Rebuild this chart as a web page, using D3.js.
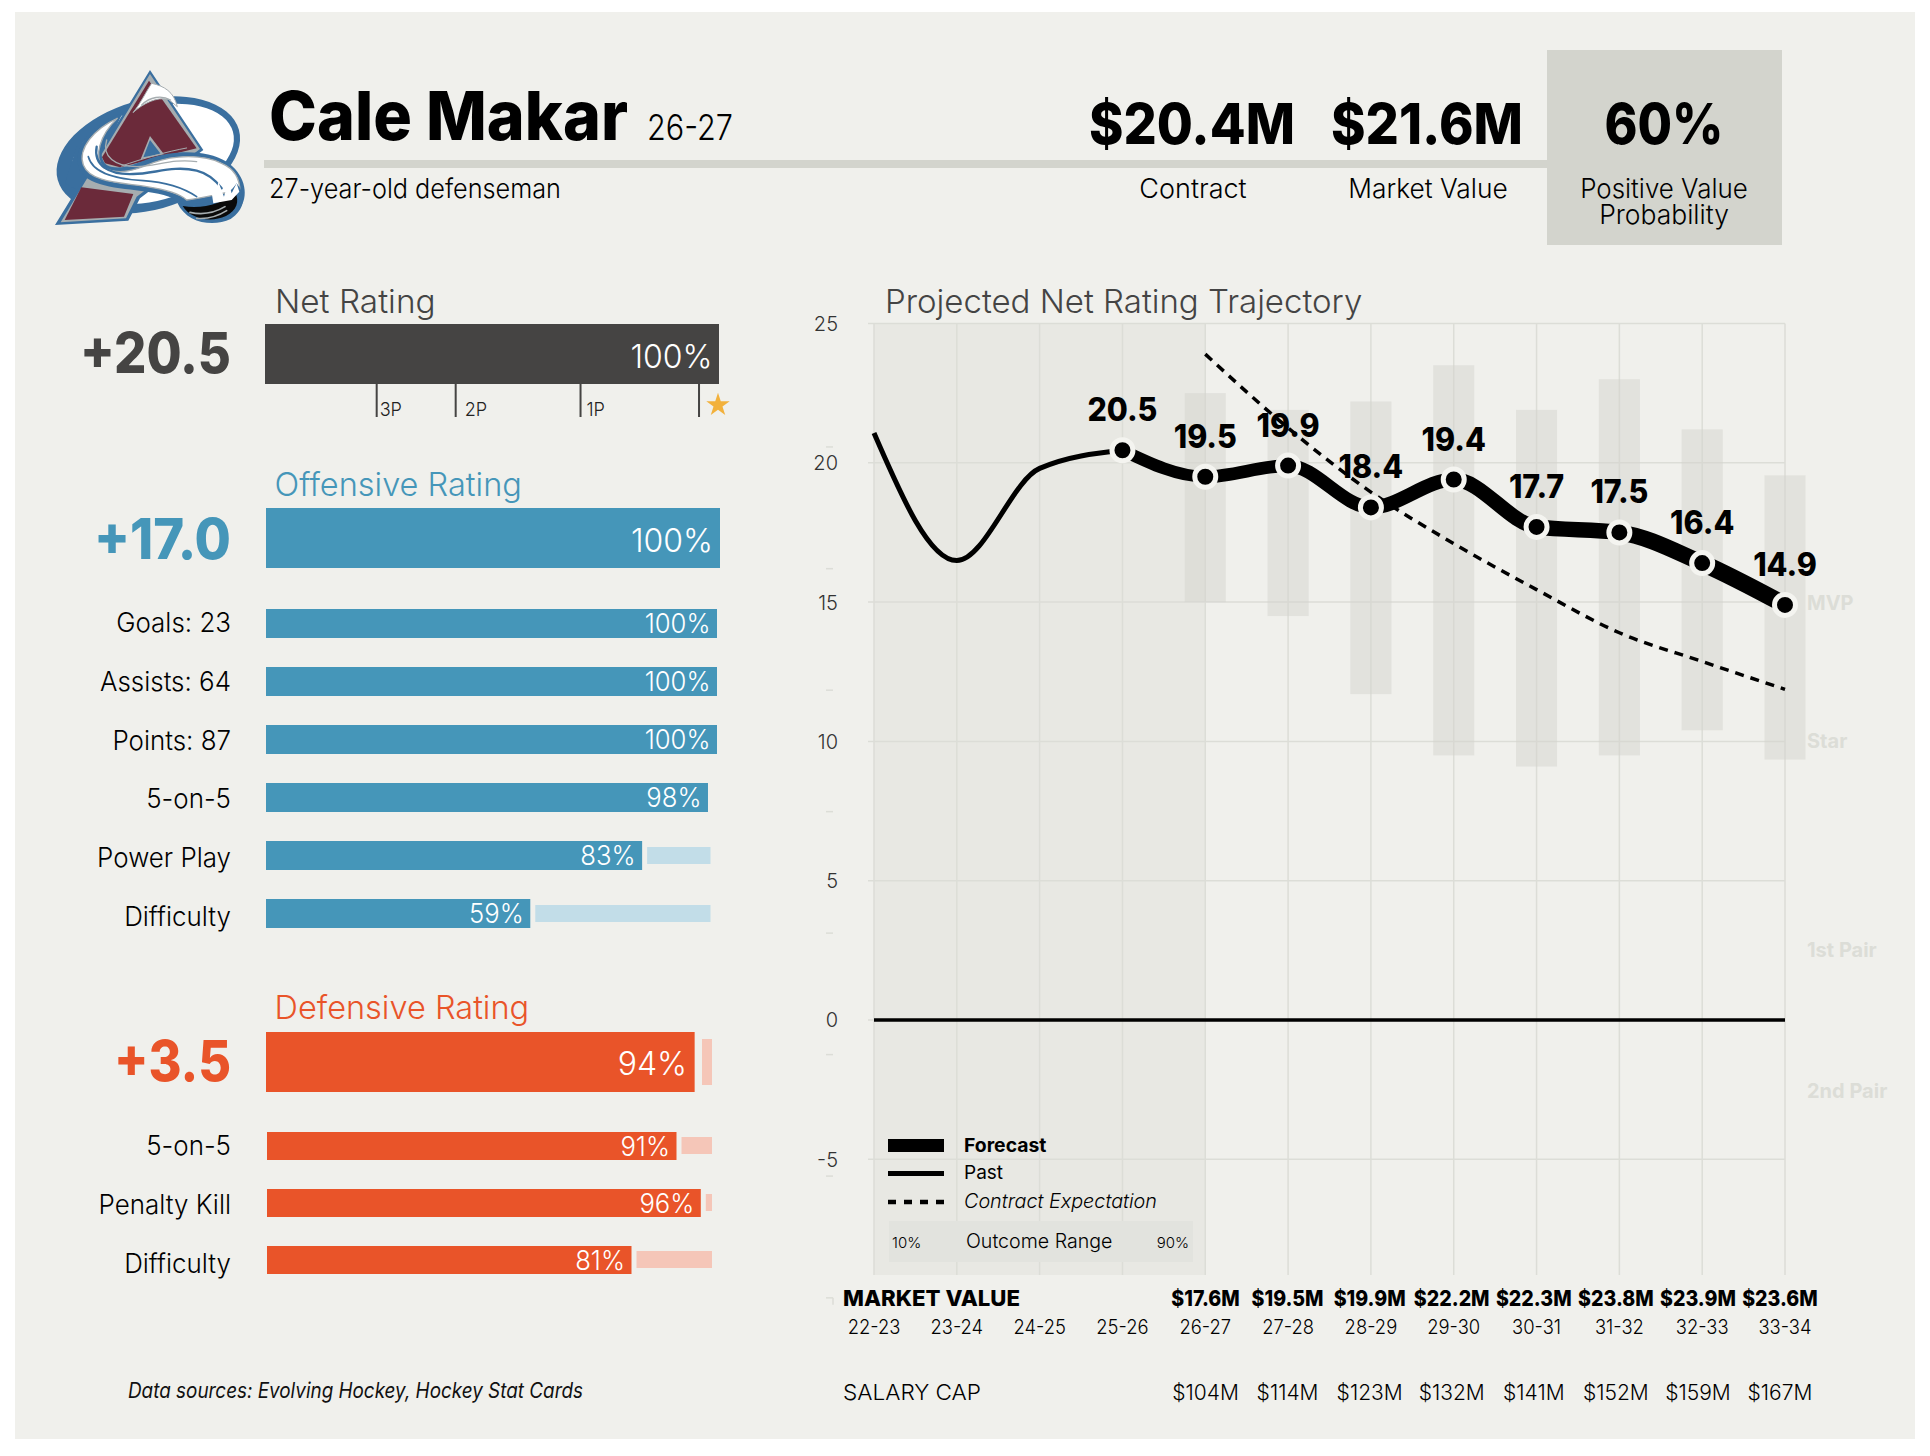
<!DOCTYPE html>
<html><head><meta charset="utf-8">
<script src="https://cdn.jsdelivr.net/npm/d3@7"></script>
<style>
html,body{margin:0;padding:0;background:#fff}
svg{display:block}
text{font-family:Inter,"Noto Sans",sans-serif;font-kerning:normal}
</style></head><body><svg id="c" width="1930" height="1456"></svg>
<script>
const seasons=["22-23","23-24","24-25","25-26","26-27","27-28","28-29","29-30","30-31","31-32","32-33","33-34"];
const pastValues=[21.07,16.49,19.8,20.45];
const forecastValues=[20.45,19.5,19.9,18.4,19.4,17.7,17.5,16.4,14.9];
const forecastLabels=["20.5","19.5","19.9","18.4","19.4","17.7","17.5","16.4","14.9"];
const contractValues=[23.9,21.25,18.95,17.1,15.45,13.9,12.87,11.87];
const rangeHigh=[22.5,21.9,22.2,23.5,21.9,23.0,21.2,19.55];
const rangeLow=[15.0,14.5,11.7,9.5,9.1,9.5,10.4,9.35];
const marketValues=["$17.6M","$19.5M","$19.9M","$22.2M","$22.3M","$23.8M","$23.9M","$23.6M"];
const salaryCaps=["$104M","$114M","$123M","$132M","$141M","$152M","$159M","$167M"];
const yTicks=[25,20,15,10,5,0,-5];
const minorTicks=[20.57,16.2,11.84,7.48,3.12,-1.24,-5.6,-9.97];
const tierLabels=["MVP","Star","1st Pair","2nd Pair"];
const tierValues=[14.7,9.75,2.25,-2.8];
const offenseLabels=["Goals: 23","Assists: 64","Points: 87","5-on-5","Power Play","Difficulty"];
const offenseValues=[100,100,100,98,83,59];
const offenseBars=[100,100,100,98,83.4,58.6];
const defenseLabels=["5-on-5","Penalty Kill","Difficulty"];
const defenseValues=[91,96,81];
const defenseBars=[91,96.4,81];
const netTickLabels=["3P","2P","1P"];
const netTickValues=[24.6,42,69.5,95.6];

const svg=d3.select("#c");
const T=(x,y,s,size,o={})=>{const t=svg.append("text").attr("x",x).attr("y",y).text(s)
  .attr("font-size",size).attr("fill",o.fill||"#000").attr("text-anchor",o.a||"start")
  .attr("font-weight",o.w||300);
  if(o.i)t.attr("font-style","italic");
  const len=o.len||(o.k?t.node().getComputedTextLength()*o.k:0);
  if(len)t.attr("textLength",len).attr("lengthAdjust","spacingAndGlyphs");
  return t;};
const R=(x0,y0,x1,y1,f,op)=>svg.append("rect").attr("x",x0).attr("y",y0).attr("width",x1-x0).attr("height",y1-y0).attr("fill",f).attr("opacity",op==null?1:op);

const BG="#f0f0ec",TILE="#d3d4cd";
R(15,12,1915,1439,BG);

// header
R(264,160,1547,168,TILE);
R(1547,50,1782,245,TILE);
T(269,140,"Cale Makar",68,{w:800,len:359});
T(647,140,"26-27",35,{len:86});
T(269,198,"27-year-old defenseman",27,{len:292});
T(1192,144,"$20.4M",57,{w:800,a:"middle",len:206});
T(1427,144,"$21.6M",57,{w:800,a:"middle",len:192});
T(1664,144,"60%",57,{w:800,a:"middle",len:119});
T(1193,198,"Contract",27,{a:"middle"});
T(1428,198,"Market Value",27,{a:"middle",k:.975});
T(1664,198,"Positive Value",27,{a:"middle",k:.96});
T(1664,224,"Probability",27,{a:"middle",k:.98});

// logo
const L=svg.append("g").attr("transform","translate(40,50) scale(0.3333)");
const BL="#3a6f9f",MA="#6b2a3a",GR="#a6adb0",WH="#ffffff";
const P=(d,f,s,w)=>L.append("path").attr("d",d).attr("fill",f||"none").attr("stroke",s||"none").attr("stroke-width",w||0).attr("stroke-linejoin","round").attr("stroke-linecap","round");
L.append("ellipse").attr("cx",325).attr("cy",315).attr("rx",282).attr("ry",165).attr("transform","rotate(-15.5 325 315)").attr("fill",BL);
L.append("ellipse").attr("cx",338).attr("cy",312).attr("rx",250).attr("ry",140).attr("transform","rotate(-15.5 338 312)").attr("fill",WH);
P("M75,400 L110,290 L250,185 L130,430 Z",BL);
P("M330,60 L490,300 L300,445 L265,512 L45,525 Z",BL);
P("M330,72 L480,297 L290,440 L258,505 L62,517 Z",GR);
P("M327,92 L470,295 L240,352 L195,340 L186,322 Z",MA);
P("M74,510 L124,412 L280,432 L252,500 Z",MA);
P("M330,258 L372,313 L302,328 Z",GR);
P("M330,270 L362,311 L310,322 Z",BL);
P("M245,348 C310,325 380,305 440,294",null,GR,3);
P("M280,187 C305,155 318,125 335,100 C372,108 402,125 412,170 L385,148 C350,140 310,160 280,187 Z",WH,GR,3);
P("M305,165 C330,140 365,135 392,150",null,GR,4);
P("M245,190 C170,215 95,285 115,350 C135,412 235,412 320,425 C370,432 410,442 420,465 C460,525 565,525 603,470 C628,430 612,370 560,335 C500,298 400,300 330,325 C290,340 240,365 200,345 C168,320 190,250 245,190 Z",BL);
P("M232,205 C165,235 112,295 130,345 C150,398 245,398 320,410 C375,418 420,432 440,450 C520,440 570,420 600,425 C600,380 580,355 545,340 C490,312 400,315 340,338 C295,356 240,380 190,352 C160,320 180,255 232,205 Z",WH,GR,4);
P("M170,290 C160,345 205,375 280,372 C340,372 400,345 470,362 C510,372 530,395 545,415",null,BL,7);
P("M145,320 C160,375 240,388 310,392 C375,396 425,410 470,440",null,BL,5);
P("M200,270 C185,320 225,350 290,350 C350,348 400,325 470,335",null,GR,4);
P("M412,458 C470,470 555,455 590,400 C622,438 612,482 572,507 C520,532 440,520 412,458 Z",BL);
P("M428,468 C490,478 550,460 585,425 C600,455 590,480 558,498 C510,520 450,505 428,468 Z","#0a0a0a");
P("M450,487 C490,496 525,488 555,470 M470,505 C505,508 535,498 560,482",null,GR,5);
P("M510,395 L530,420 L535,395 L552,440 L565,395 L575,430 L590,400 L598,425 L575,450 L520,460 Z",WH);

// left bars
const bigScale=d3.scaleLinear().domain([0,100]).range([266,720]);
const defBig=d3.scaleLinear().domain([0,100]).range([266,722]);
const offScale=d3.scaleLinear().domain([0,100]).range([266,717]);
const defScale=d3.scaleLinear().domain([0,100]).range([267,717]);
const DK="#454443",OF="#4596b9",OFL="#c2dde8",DF="#e95429",DFL="#f5c6b8";
T(275,313,"Net Rating",33,{fill:"#444",k:1.01});
R(265,324,719,384,DK);
T(712.5,368,"100%",32,{fill:"#fff",a:"end"});
T(231,373,"+20.5",56,{fill:DK,w:800,a:"end",len:151});
const netX=d3.scaleLinear().domain([0,100]).range([265,719]);
const netOff=[3,9,6];
netTickValues.forEach((v,i)=>{
  R(netX(v)-1,384,netX(v)+1,417,DK);
  if(netTickLabels[i])T(netX(v)+netOff[i],416,netTickLabels[i],19,{fill:"#222",k:.95});
});
svg.append("path").attr("d",d3.symbol(d3.symbolStar,170)()).attr("transform","translate(718,405)").attr("fill","#f2b13c");

T(274.5,496,"Offensive Rating",33,{fill:OF,k:.985});
R(266,508,bigScale(100),568,OF);
T(713,552,"100%",32,{fill:"#fff",a:"end"});
T(231,559,"+17.0",56,{fill:OF,w:800,a:"end",len:137});
const offY=d3.scalePoint().domain(offenseLabels).range([609,899]);
const offLabelY=d3.scalePoint().domain(offenseLabels).range([632,926]);
offenseLabels.forEach((l,i)=>{
  const y=offY(l),v=offenseBars[i],x1=offScale(v);
  if(v<98) R(x1+5,y+6,710.5,y+23,OFL);
  R(266,y,x1,y+29,OF);
  T(x1-6.5,y+24,offenseValues[i]+"%",27,{fill:"#fff",a:"end",k:.95});
  T(231,offLabelY(l),l,27,{a:"end",k:.96});
});

T(274.5,1019,"Defensive Rating",33,{fill:DF,k:.985});
R(702,1039,712,1085,DFL);
R(266,1032,defBig(94),1092,DF);
T(687,1075,"94%",32,{fill:"#fff",a:"end"});
T(231,1081,"+3.5",56,{fill:DF,w:800,a:"end",len:117});
const defY=d3.scalePoint().domain(defenseLabels).range([1132,1246]);
const defLabelY=d3.scalePoint().domain(defenseLabels).range([1155,1272.5]);
defenseLabels.forEach((l,i)=>{
  const y=defY(l),v=defenseBars[i],x1=defScale(v);
  R(x1+5,y+5,712,y+22,DFL);
  R(267,y,x1,y+28,DF);
  T(x1-6.5,y+23.5,defenseValues[i]+"%",27,{fill:"#fff",a:"end",k:.95});
  T(231,defLabelY(l),l,27,{a:"end",k:.96});
});
T(128,1398,"Data sources: Evolving Hockey, Hockey Stat Cards",21,{i:true,w:400,fill:"#111",len:455});

// chart
const x=d3.scalePoint().domain(seasons).range([874,1785]);
const y=d3.scaleLinear().domain([25,-9.15]).range([323.5,1275]);
const GRID="#dcddd7";
T(885,313,"Projected Net Rating Trajectory",33,{fill:"#444"});
R(874,323.5,x("26-27"),1275,"#e8e8e3");
seasons.forEach(s=>svg.append("line").attr("x1",x(s)).attr("x2",x(s)).attr("y1",323.5).attr("y2",1275).attr("stroke",GRID).attr("stroke-width",1.5));
const yAxis=d3.axisLeft(y).tickValues(yTicks).tickSize(0).tickPadding(0).tickFormat(d=>String(d));
const yg=svg.append("g").attr("transform","translate(838,0.5)").call(yAxis);
yg.select(".domain").remove();
yg.selectAll("text").attr("font-size",20).attr("fill","#333").attr("font-weight",300).attr("font-family","Inter");
yTicks.forEach(v=>svg.append("line").attr("x1",868).attr("x2",1785).attr("y1",y(v)).attr("y2",y(v)).attr("stroke",GRID).attr("stroke-width",1.5));
minorTicks.forEach(v=>svg.append("line").attr("x1",826).attr("x2",833).attr("y1",y(v)).attr("y2",y(v)).attr("stroke","#dcddd7").attr("stroke-width",1.5));
svg.append("line").attr("x1",833).attr("x2",833).attr("y1",y(-9.97)).attr("y2",y(-9.97)+7).attr("stroke","#dcddd7").attr("stroke-width",1.5);

const fut=seasons.slice(4);
fut.forEach((s,i)=>{
  svg.append("rect").attr("x",x(s)-20.5).attr("width",41).attr("y",y(rangeHigh[i])).attr("height",y(rangeLow[i])-y(rangeHigh[i])).attr("fill","#d3d4cd").attr("opacity",.5);
});
svg.append("line").attr("x1",874).attr("x2",1785).attr("y1",y(0)).attr("y2",y(0)).attr("stroke","#000").attr("stroke-width",3.5);

const line=d3.line().x(d=>x(d[0])).y(d=>y(d[1])).curve(d3.curveMonotoneX);
svg.append("path").attr("d",line(contractValues.map((v,i)=>[fut[i],v]))).attr("fill","none").attr("stroke","#000").attr("stroke-width",3.5).attr("stroke-dasharray","9 7");
svg.append("path").attr("d",line(pastValues.map((v,i)=>[seasons[i],v]))).attr("fill","none").attr("stroke","#000").attr("stroke-width",5);
const fs=seasons.slice(3);
const fd=forecastValues.map((v,i)=>[fs[i],v]);
const parts=line(fd).split("C");
const widen=d3.scaleLinear().domain([1,parts.length-1]).range([12,17]);
let prevEnd=parts[0].slice(1);
parts.slice(1).forEach((seg,i)=>{
  svg.append("path").attr("d","M"+prevEnd+"C"+seg).attr("fill","none").attr("stroke","#000").attr("stroke-width",widen(i+1));
  prevEnd=seg.split(",").slice(-2).join(",");
});
svg.selectAll("circle.pt").data(fd).join("circle").attr("class","pt").attr("cx",d=>x(d[0])).attr("cy",d=>y(d[1])).attr("r",10.5).attr("fill","#000").attr("stroke","#f4f4f0").attr("stroke-width",5);
fd.forEach((d,i)=>T(x(d[0]),y(d[1])-29,forecastLabels[i],32,{w:800,a:"middle",k:.95}));

tierLabels.forEach((l,i)=>T(1807,y(tierValues[i]),l,20,{w:700,fill:"#dcddd7"}));

// legend
const lg=(y0,w,dash)=>{const l=svg.append("line").attr("x1",888).attr("x2",944).attr("y1",y0).attr("y2",y0).attr("stroke","#000").attr("stroke-width",w);if(dash)l.attr("stroke-dasharray",dash);};
lg(1145.5,13);lg(1173.5,5);lg(1202,4.7,"8 8");
T(964,1152,"Forecast",19,{w:700,k:1.02});
T(964,1179,"Past",19,{w:400});
T(964,1208,"Contract Expectation",19.5,{i:true,w:300,len:193});
R(889,1221,1193,1262,"#e2e3de");
T(892,1248,"10%",15);
T(966,1248,"Outcome Range",20,{k:.98});
T(1189,1248,"90%",15,{a:"end"});

// table
const tableX=d3.scalePoint().domain(fut).range([1205.5,1780]);
T(843,1306,"MARKET VALUE",22,{w:800,len:177});
fut.forEach((s,i)=>{
  T(tableX(s),1306,marketValues[i],22,{w:800,a:"middle",k:.89});
  T(tableX(s),1400,salaryCaps[i],21,{a:"middle"});
});
seasons.forEach(s=>T(x(s),1334,s,20,{a:"middle",k:.92}));
T(843,1400,"SALARY CAP",22,{len:138});
</script></body></html>
